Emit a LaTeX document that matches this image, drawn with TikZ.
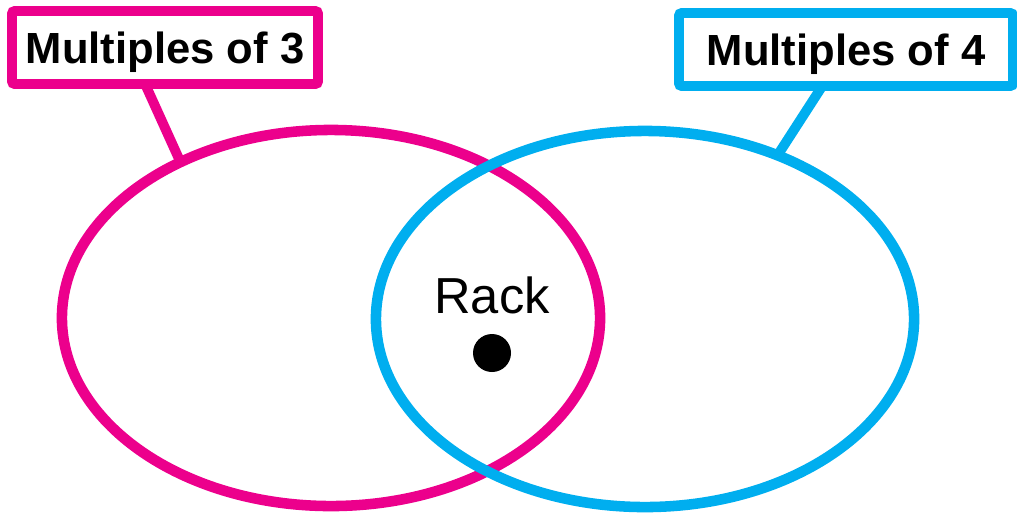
\documentclass[tikz,border=0pt]{standalone}
\usepackage{fontspec}
\setmainfont{Liberation Sans}
\usepackage{tikz}
\usetikzlibrary{shapes.geometric}

\definecolor{mthree}{HTML}{EC008C}
\definecolor{mfour}{HTML}{00AEEF}

\begin{document}
\begin{tikzpicture}[x=0.025cm,y=-0.025cm,
	setring/.style={shape=ellipse,draw=#1,line width=7.5pt,inner sep=0pt,outer sep=0pt,minimum width=13.45cm,minimum height=9.4cm},
	setlabel/.style={draw=#1,line width=7pt,rounded corners=2pt,fill=white,inner sep=0pt,outer sep=0pt,minimum height=1.825cm,text depth=0pt,font=\fontsize{31}{31}\selectfont\bfseries},
	setlink/.style={draw=#1,line width=7pt}]
	
	\useasboundingbox (0,0) rectangle (1017,515);
	\clip (0,0) rectangle (1017,515);
	
	\node[setring=mthree] (three) at (331, 318) {};
	\node[setring=mfour] (four) at (645, 319) {};
	
	\node[setlabel=mthree,minimum width=7.65cm] (lthree) at (165, 47.5) {Multiples of 3};
	\node[setlabel=mfour,minimum width=8.35cm] (lfour) at (846, 49.5) {Multiples of 4};
	
	\coordinate (tthree) at (146, 86);
	\coordinate (tfour) at (821, 88);
	
	\path[setlink=mthree] (tthree) edge (three.134);
	\path[setlink=mfour] (tfour) edge (four.51);
	
	\node[anchor=base,font=\fontsize{36}{36}\selectfont] (rack) at (492, 313) {Rack};
	\node[shape=circle,fill=black,inner sep=0pt,minimum size=0.95cm] (dot) at (492, 353) {};

\end{tikzpicture}
\end{document}
